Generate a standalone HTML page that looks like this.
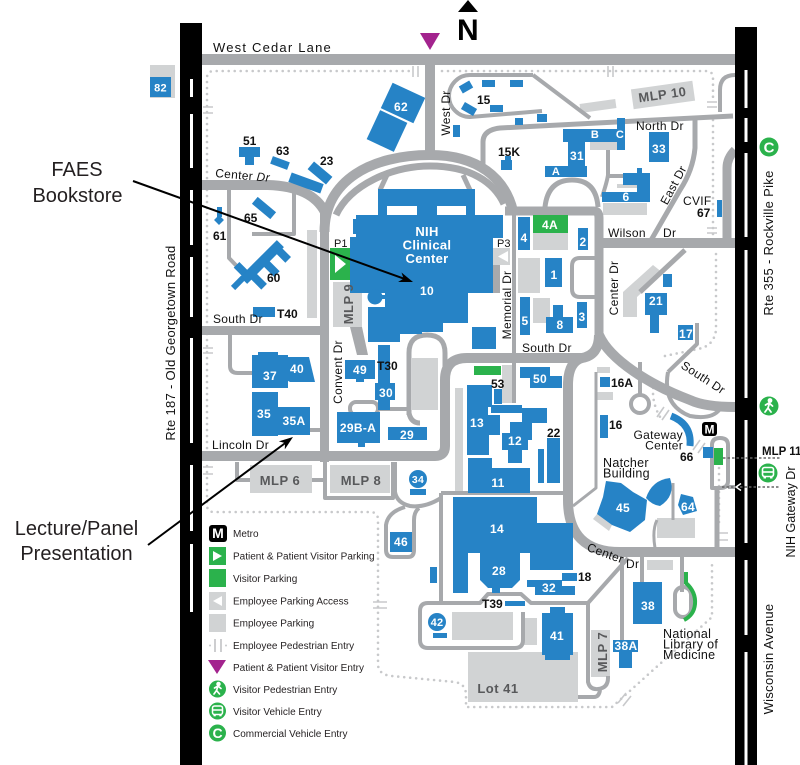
<!DOCTYPE html>
<html><head><meta charset="utf-8">
<style>
html,body{margin:0;padding:0;background:#fff;}
svg{display:block;}
text{font-family:"Liberation Sans",Arial,sans-serif;}
.b{fill:#2683c6;}
.lg{fill:#d1d3d4;}
.g{fill:#2bb24c;}
.r{fill:none;stroke:#a7a9ac;stroke-linejoin:round;}
.w{fill:#fff;font-weight:bold;font-size:12px;text-anchor:middle;letter-spacing:0.3px;}
.k{fill:#111;font-weight:bold;font-size:12px;}
.s{fill:#111;font-size:12px;letter-spacing:0.3px;}
.m{fill:#58595b;font-weight:bold;font-size:13px;text-anchor:middle;letter-spacing:0.5px;}
.d{fill:none;stroke:#c8c9cb;stroke-width:2.6;stroke-linecap:round;stroke-dasharray:0 6;}
.e{fill:none;stroke:#c8c9cb;stroke-width:1.6;}
.lt{fill:#231f20;font-size:10px;}
</style></head><body>
<svg width="800" height="765" viewBox="0 0 800 765" xmlns="http://www.w3.org/2000/svg">
<rect width="800" height="765" fill="#fff"/>

<!-- dotted pedestrian paths -->
<path class="d" d="M207,448 V78 Q207,71 214,71 H410"/>
<path class="d" d="M442,71 H706 Q713,71 713,78 V100"/>
<path class="d" d="M713,120 V240"/>
<path class="d" d="M716,254 V330 Q714,346 698,349 L660,357"/>
<path class="d" d="M654,382 Q650,402 662,420"/>
<path class="d" d="M207,466 V505 Q207,512 214,512 H370 Q378,512 378,520 V665 Q379,675 392,676 L455,682 Q466,684 466,695 V707 H612 L712,617 V560"/>
<path class="d" d="M719,468 V527"/>

<!-- employee pedestrian entries -->
<path class="e" d="M203,107 H213 M203,113 H213 M413,66 V77 M418,66 V77 M608,66 V77 M613,66 V77 M707,102 H717 M707,107 H717 M707,228 H717 M707,233 H717 M203,348 H213 M203,353 H213 M203,467 H213 M203,474 H213 M373,602 H387 M373,608 H387 M657,417 L664,407 M662,420 L669,410 M693,450 L700,440 M698,453 L705,443 M717,533 H728 M717,540 H728 M618,703 L626,693 M623,706 L631,696"/>

<!-- light gray parking -->
<rect class="lg" x="150" y="65" width="25" height="33"/>
<rect class="lg" x="307" y="230" width="10" height="88"/>
<rect class="lg" x="333" y="282" width="29" height="45"/>
<rect class="lg" x="493" y="248" width="17" height="17"/>
<rect class="lg" x="533" y="233" width="35" height="17"/>
<rect class="lg" x="518" y="258" width="22" height="35"/>
<rect class="lg" x="533" y="298" width="17" height="25"/>
<rect class="lg" x="603" y="203" width="44" height="12"/>
<rect class="lg" x="617" y="184" width="21" height="4"/>
<rect class="lg" x="590" y="142" width="27" height="8"/>
<g transform="translate(663,95) rotate(-8)"><rect class="lg" x="-31" y="-10" width="62" height="20"/></g>
<g transform="translate(598,106) rotate(-8)"><rect class="lg" x="-18" y="-4.5" width="36" height="9"/></g>
<polygon class="lg" points="653,265 663,273 637,297 637,317 623,317 623,292"/>
<rect class="lg" x="597" y="367" width="13" height="6"/>
<rect class="lg" x="597" y="392" width="16" height="8"/>
<rect class="lg" x="502" y="365" width="10" height="38"/>
<rect class="lg" x="455" y="388" width="8" height="105"/>
<rect class="lg" x="412" y="358" width="26" height="52"/>
<rect class="lg" x="250" y="465" width="62" height="28"/>
<rect class="lg" x="330" y="465" width="60" height="28"/>
<rect class="lg" x="452" y="612" width="61" height="28"/>
<rect class="lg" x="523" y="618" width="14" height="27"/>
<rect class="lg" x="468" y="652" width="110" height="50"/>
<rect class="lg" x="591" y="630" width="19" height="47"/>
<rect class="lg" x="647" y="560" width="26" height="10"/>
<rect class="lg" x="657" y="518" width="38" height="20"/>
<polygon class="lg" points="597,514 612,525 609,531 593,519"/>

<!-- roads -->
<g class="r">
<path stroke-width="11" d="M202,59.5 H735"/>
<path stroke-width="10" d="M430,65 V158"/>
<path stroke-width="10" d="M202,185 H268 C298,186 316,195 325,212"/>
<path stroke-width="9" d="M324.5,205 V462"/>
<path stroke-width="10" d="M324.5,232 C324.5,180 372,155 430,155 C478,155 505,178 513,211"/>
<path stroke-width="7" d="M336,215 C350,185 392,166 430,166 C470,166 494,182 504,204"/>
<path stroke-width="5" d="M387,175 L380,190 M463,175 L470,190"/>
<path stroke-width="9" d="M505,211 H594 Q599,211 599,218 V338"/>
<path stroke-width="5" d="M483,165 V142 Q483,130 500,128 L733,116"/>
<path stroke-width="4" d="M533,75 H470 A21,21 0 0 0 470,117 L542,111 M533,75 L590,118"/>
<path stroke-width="5" d="M545,207 Q548,180 572,180 Q596,180 598,207"/>
<path stroke-width="4" d="M602,197 Q607,182 608,175 V150 M608,176 H624"/>
<path stroke-width="10" d="M599,243 H735"/>
<path stroke-width="5" d="M695,117 V148 Q693,170 680,190 L650,242"/>
<path stroke-width="9" d="M735,150 Q727,158 727,168 V243"/>
<path stroke-width="4" d="M735,75 Q720,75 720,90 V112"/>
<path stroke-width="4" d="M514,211 V403"/>
<path stroke-width="4" d="M599,258 H580 Q572,258 572,266 V289 Q572,297 580,297 H599"/>
<path stroke-width="9" d="M202,330.5 H325"/>
<path stroke-width="10" d="M202,456 H435 Q445,456 445,446 V380 Q445,358 467,358 H582 Q599,355 599,335"/>
<path stroke-width="10" d="M582,358 Q568,362 568,385 V500 Q568,552 620,552 H735"/>
<path stroke-width="10" d="M599,335 C610,360 650,385 690,400 Q705,407 735,407"/>
<path stroke-width="5" d="M640,292 L685,250"/>
<path stroke-width="4" d="M668,372 L697,344 V323"/>
<path stroke-width="4" d="M668,372 Q662,405 690,416 Q712,420 720,409"/>
<path stroke-width="4" d="M640,362 V395"/>
<circle cx="640" cy="404" r="9" stroke-width="4"/>
<path stroke-width="3" d="M596,372 V488 L573,506"/>
<path stroke-width="4" d="M712,488 V445 Q712,438 720,438 Q728,438 728,445 V481 Q728,488 720,488 Z M728,487 H735"/>
<path stroke-width="5" d="M717,488 V548"/>
<path stroke-width="3" d="M673,483 V520 M657,520 Q652,530 655,548"/>
<path stroke-width="4" d="M622,552 V640 M642,552 V582 M682,552 V592"/>
<rect x="675" y="587" width="16" height="30" rx="8" stroke-width="4"/>
<path stroke-width="4" d="M628,558 L588,603 H531 L521,594 H488 L480,603 H428 Q420,603 420,611 V640 Q420,648 428,648 H515 Q523,648 523,640 V612"/>
<path stroke-width="4" d="M588,603 V682 Q590,690 598,689 Q608,688 608,678 V676"/>
<path stroke-width="4" d="M578,697 H594 Q599,697 600,690"/>
<path stroke-width="4" d="M441,493 V603 M441,493 H563"/>
<path stroke-width="4" d="M237,462 V480 H250 M312,480 H325 M325,462 V498 H393 V462"/>
<path stroke-width="4" d="M395,462 V492 Q397,503 410,506 Q425,508 441,498"/>
<path stroke-width="4" d="M405,507 Q388,512 386,525 V550 Q386,557 393,557 H408 Q414,557 414,550 V520 Q414,512 419,508"/>
<path stroke-width="4" d="M229,185 V258 L250,280 M294,190 V234 H252"/>
<path stroke-width="4" d="M230,335 V366 Q230,373 238,373 H252 M310,430 H320"/>
<path stroke-width="5" d="M409,415 V353 Q409,335 427,335 Q445,335 445,353 V380 M409,413 Q411,423 420,423"/>
<rect x="350" y="402" width="28" height="13" rx="6" stroke-width="4"/>
<path stroke-width="4" d="M378,409 H409"/>
</g>
<polygon fill="#a7a9ac" points="350,327 362,327 368,355 357,355"/>
<rect fill="#a7a9ac" x="493" y="265" width="7" height="28"/>

<!-- green parking -->
<rect class="g" x="330" y="248" width="20" height="32"/>
<polygon fill="#fff" points="335,255 346,264 335,273"/>
<rect class="g" x="533" y="215" width="35" height="18"/>
<rect class="g" x="474" y="366" width="27" height="9"/>
<rect class="g" x="714" y="448" width="9" height="17"/>
<path d="M686,572 V583 Q696,592 695,604 Q694,615 684,620" fill="none" stroke="#2bb24c" stroke-width="4"/>
<polygon fill="#fff" points="508,251 498,256.5 508,262"/>

<!-- buildings -->
<g class="b">
<rect x="150" y="77" width="21" height="20"/>
<g transform="translate(403,103) rotate(25)"><rect x="-18" y="-14" width="36" height="28"/></g>
<g transform="translate(387,131) rotate(25)"><rect x="-15" y="-16" width="30" height="32"/></g>
<rect x="239" y="147" width="21" height="10"/><rect x="245" y="156" width="9" height="9"/>
<g transform="translate(280,163) rotate(20)"><rect x="-9" y="-4" width="18" height="8"/></g>
<g transform="translate(306,183) rotate(20)"><rect x="-17" y="-5" width="34" height="10"/></g>
<g transform="translate(320,173) rotate(40)"><rect x="-12" y="-5" width="24" height="10"/></g>
<g transform="translate(264,208) rotate(40)"><rect x="-12" y="-4.5" width="24" height="9"/></g>
<rect x="217" y="207" width="5" height="10"/>
<g transform="translate(219,220) rotate(45)"><rect x="-3.5" y="-3.5" width="7" height="7"/></g>
<g transform="translate(262,262) rotate(-45)">
<rect x="-26" y="-5" width="52" height="10"/><rect x="-20" y="4" width="8" height="15"/><rect x="-2" y="4" width="8" height="15"/><rect x="16" y="4" width="8" height="13"/><rect x="-24" y="-16" width="8" height="12"/>
</g>
<g transform="translate(238,283) rotate(-45)"><rect x="-7" y="-3" width="14" height="6"/></g>
<rect x="253" y="307" width="22" height="10"/>
<!-- clinical center -->
<rect x="378" y="189" width="97" height="17"/>
<rect x="378" y="205" width="9" height="11"/><rect x="417" y="205" width="20" height="11"/><rect x="466" y="205" width="9" height="11"/>
<rect x="356" y="215" width="147" height="23"/><rect x="353" y="219" width="4" height="15"/>
<rect x="350" y="237" width="143" height="56"/>
<rect x="385" y="292" width="83" height="31"/>
<rect x="398" y="320" width="24" height="14"/>
<rect x="368" y="307" width="32" height="35"/>
<rect x="420" y="320" width="23" height="12"/>
<circle cx="375" cy="297" r="7.5"/>
<rect x="380" y="295" width="8" height="4"/>
<rect x="472" y="327" width="24" height="22"/>
<!-- east campus -->
<rect x="518" y="217" width="12" height="33"/>
<rect x="578" y="228" width="10" height="22"/>
<rect x="545" y="258" width="17" height="29"/>
<rect x="520" y="297" width="10" height="38"/>
<rect x="553" y="305" width="10" height="13"/><rect x="546" y="317" width="27" height="16"/>
<rect x="577" y="302" width="10" height="26"/>
<rect x="501" y="160" width="11" height="10"/><rect x="505" y="156" width="6" height="6"/>
<g transform="translate(466,87) rotate(-30)"><rect x="-6" y="-4" width="12" height="8"/></g>
<rect x="482" y="80" width="13" height="7"/><rect x="510" y="80" width="13" height="7"/>
<g transform="translate(469,109) rotate(30)"><rect x="-7" y="-4" width="14" height="8"/></g>
<rect x="490" y="105" width="13" height="7"/><rect x="515" y="118" width="8" height="7"/><rect x="537" y="114" width="10" height="8"/><rect x="453" y="125" width="7" height="12"/>
<rect x="563" y="129" width="62" height="13"/><rect x="617" y="118" width="8" height="32"/>
<rect x="568" y="141" width="17" height="26"/><rect x="545" y="166" width="42" height="11"/>
<rect x="649" y="132" width="20" height="30"/>
<rect x="623" y="173" width="27" height="12"/><rect x="637" y="168" width="5" height="6"/><rect x="637" y="184" width="13" height="18"/><rect x="602" y="192" width="36" height="10"/>
<rect x="717" y="200" width="5" height="17"/>
<rect x="645" y="293" width="22" height="22"/><rect x="650" y="314" width="9" height="19"/><rect x="663" y="274" width="9" height="13"/>
<rect x="678" y="325" width="15" height="15"/>
<rect x="520" y="367" width="30" height="11"/><rect x="530" y="376" width="32" height="12"/>
<rect x="494" y="389" width="8" height="15"/>
<rect x="467" y="385" width="25" height="22"/><rect x="467" y="406" width="21" height="10"/><rect x="467" y="415" width="33" height="20"/><rect x="467" y="434" width="22" height="21"/>
<rect x="491" y="405" width="31" height="8"/><rect x="522" y="408" width="25" height="15"/><rect x="510" y="422" width="22" height="18"/><rect x="502" y="433" width="26" height="17"/><rect x="508" y="448" width="14" height="15"/>
<rect x="547" y="438" width="13" height="45"/><rect x="538" y="449" width="6" height="34"/>
<rect x="468" y="458" width="24" height="11"/><rect x="468" y="468" width="62" height="25"/>
<rect x="600" y="377" width="10" height="10"/><rect x="600" y="415" width="8" height="23"/>
<path d="M671,416 Q692,424 690,446" fill="none" stroke="#2683c6" stroke-width="7"/>
<rect x="703" y="447" width="10" height="11"/>
<!-- south campus -->
<circle cx="418" cy="479" r="9"/><rect x="410" y="489" width="16" height="6"/>
<rect x="390" y="532" width="22" height="20"/>
<rect x="430" y="567" width="7" height="16"/>
<rect x="453" y="497" width="84" height="56"/><rect x="530" y="523" width="43" height="47"/>
<rect x="453" y="552" width="15" height="41"/>
<polygon points="480,553 520,553 520,580 512,588 488,588 480,580"/>
<rect x="492" y="587" width="8" height="6"/>
<rect x="562" y="573" width="15" height="8"/>
<rect x="527" y="580" width="35" height="7"/><rect x="535" y="586" width="40" height="9"/>
<rect x="505" y="601" width="20" height="5"/>
<circle cx="437" cy="622" r="9"/><rect x="433" y="633" width="14" height="5"/>
<rect x="550" y="607" width="15" height="7"/><rect x="542" y="613" width="31" height="42"/><rect x="545" y="654" width="25" height="6"/>
<rect x="613" y="640" width="25" height="12"/><rect x="619" y="651" width="13" height="17"/>
<rect x="633" y="582" width="29" height="42"/>
<polygon points="606,481 621,483 633,492 647,500 645,520 630,532 612,525 597,514 603,497"/>
<path d="M646,498 Q652,480 670,478 Q676,496 660,506 Q652,505 646,498 Z"/>
<polygon points="681,494 693,497 697,511 683,515 678,505"/>
<!-- west campus -->
<rect x="252" y="355" width="36" height="33"/><rect x="258" y="352" width="20" height="5"/>
<polygon points="283,357 309,357 315,382 290,382 283,378"/>
<rect x="252" y="392" width="26" height="44"/><rect x="277" y="407" width="33" height="28"/>
<rect x="345" y="360" width="30" height="19"/><rect x="356" y="378" width="8" height="4"/>
<rect x="378" y="345" width="12" height="65"/><rect x="375" y="383" width="20" height="17"/>
<rect x="337" y="412" width="43" height="31"/><rect x="358" y="442" width="7" height="5"/>
<rect x="388" y="427" width="39" height="13"/>
</g>

<!-- black roads -->
<rect x="180" y="23" width="22" height="742" fill="#000"/>
<g fill="#fff">
<rect x="190" y="79" width="3" height="18"/><rect x="190" y="114" width="3" height="54"/><rect x="190" y="190" width="3" height="55"/><rect x="190" y="257" width="3" height="60"/><rect x="190" y="338" width="3" height="105"/><rect x="190" y="465" width="3" height="66"/><rect x="190" y="544" width="3" height="68"/>
</g>
<rect x="735" y="27" width="22" height="738" fill="#000"/>
<g fill="#fff">
<rect x="744.5" y="70" width="3" height="38"/><rect x="744.5" y="118" width="3" height="24"/><rect x="744.5" y="153" width="3" height="84"/><rect x="744.5" y="250" width="3" height="148"/><rect x="744.5" y="420" width="3" height="123"/><rect x="744.5" y="560" width="3" height="75"/><rect x="744.5" y="652" width="3" height="113"/>
</g>

<!-- dashed connectors right -->
<path d="M723,458 H780" stroke="#666" stroke-width="1.6" stroke-dasharray="2.5 2"/>
<path d="M722,487 H780" stroke="#666" stroke-width="1.6" stroke-dasharray="2.5 2"/>
<path d="M741,483.5 L736,487 L741,490.5" fill="none" stroke="#fff" stroke-width="1.5"/>

<!-- icons -->
<polygon fill="#000" points="458,12 478,12 468,0"/>
<text x="457" y="40" style="font-weight:bold;font-size:30px;fill:#000;">N</text>
<polygon fill="#a3238e" points="420,33 440,33 430,50"/>
<rect x="702" y="422" width="15" height="14" rx="3" fill="#000"/>
<text x="709.5" y="433.5" style="fill:#fff;font-weight:bold;font-size:12px;text-anchor:middle;">M</text>
<g>
<circle cx="769" cy="147" r="9.5" class="g"/>
<text x="769" y="152.5" style="fill:#fff;font-weight:bold;font-size:15px;text-anchor:middle;">C</text>
<circle cx="769" cy="406" r="9.5" class="g"/>
<g fill="none" stroke="#fff" stroke-width="1.8" stroke-linecap="round"><circle cx="770" cy="400.5" r="1.5" fill="#fff"/><path d="M769.5,403 L768,408 L765,412 M768,408 L771,412 M765.5,405 L769,403 L772.5,406"/></g>
<circle cx="768" cy="473" r="9.5" class="g"/>
<g fill="none" stroke="#fff" stroke-width="1.6"><rect x="762.5" y="467.5" width="11" height="9" rx="2"/><path d="M762.5,472 H773.5"/></g>
<rect x="763.5" y="476" width="2.5" height="2.5" fill="#fff"/><rect x="770" y="476" width="2.5" height="2.5" fill="#fff"/>
</g>

<!-- building labels white -->
<text class="w" x="160.5" y="91.5" style="font-size:11px">82</text>
<text class="w" x="401" y="111">62</text>
<text class="w" x="577" y="160">31</text>
<text class="w" x="595" y="138" style="font-size:11px">B</text>
<text class="w" x="620" y="138" style="font-size:11px">C</text>
<text class="w" x="556" y="175" style="font-size:11px">A</text>
<text class="w" x="659" y="153">33</text>
<text class="w" x="626" y="201">6</text>
<text class="w" x="524" y="242">4</text>
<text class="w" x="550" y="229">4A</text>
<text class="w" x="583" y="246">2</text>
<text class="w" x="554" y="279">1</text>
<text class="w" x="525" y="325">5</text>
<text class="w" x="560" y="329">8</text>
<text class="w" x="582" y="321">3</text>
<text class="w" x="427" y="236" style="font-size:13px">NIH</text>
<text class="w" x="427" y="249.5" style="font-size:13px">Clinical</text>
<text class="w" x="427" y="263" style="font-size:13px">Center</text>
<text class="w" x="427" y="295">10</text>
<text class="w" x="656" y="305">21</text>
<text class="w" x="686" y="338">17</text>
<text class="w" x="540" y="383">50</text>
<text class="w" x="477" y="427">13</text>
<text class="w" x="515" y="445">12</text>
<text class="w" x="498" y="487">11</text>
<text class="w" x="497" y="533">14</text>
<text class="w" x="499" y="575">28</text>
<text class="w" x="549" y="592">32</text>
<text class="w" x="437" y="626" style="font-size:11px">42</text>
<text class="w" x="418" y="483" style="font-size:10.5px">34</text>
<text class="w" x="401" y="546">46</text>
<text class="w" x="557" y="640">41</text>
<text class="w" x="648" y="610">38</text>
<text class="w" x="626" y="650">38A</text>
<text class="w" x="623" y="512">45</text>
<text class="w" x="688" y="511">64</text>
<text class="w" x="270" y="380">37</text>
<text class="w" x="297" y="373">40</text>
<text class="w" x="264" y="418">35</text>
<text class="w" x="294" y="425">35A</text>
<text class="w" x="360" y="374">49</text>
<text class="w" x="386" y="397">30</text>
<text class="w" x="358" y="432">29B-A</text>
<text class="w" x="407" y="439">29</text>

<!-- black bold labels -->
<g class="k">
<text x="243" y="145">51</text>
<text x="276" y="155">63</text>
<text x="320" y="165">23</text>
<text x="244" y="222">65</text>
<text x="213" y="240">61</text>
<text x="267" y="282">60</text>
<text x="277" y="318">T40</text>
<text x="477" y="104">15</text>
<text x="498" y="156">15K</text>
<text x="697" y="217">67</text>
<text x="377" y="370">T30</text>
<text x="491" y="388">53</text>
<text x="547" y="437">22</text>
<text x="611" y="387">16A</text>
<text x="609" y="429">16</text>
<text x="578" y="581">18</text>
<text x="482" y="608">T39</text>
<text x="680" y="461">66</text>
<text x="762" y="455" style="font-size:11.5px">MLP 11</text>
<text x="334" y="247" style="font-weight:normal;font-size:11px">P1</text>
<text x="497" y="247" style="font-weight:normal;font-size:11px">P3</text>
</g>

<!-- MLP labels -->
<text class="m" transform="translate(663,99) rotate(-8)">MLP 10</text>
<text class="m" transform="translate(353,304) rotate(-90)">MLP 9</text>
<text class="m" x="280" y="485">MLP 6</text>
<text class="m" x="361" y="485">MLP 8</text>
<text class="m" transform="translate(607,652) rotate(-90)">MLP 7</text>
<text class="m" x="498" y="693">Lot 41</text>

<!-- street labels -->
<g class="s">
<text x="213" y="52" style="font-size:13px;letter-spacing:1.2px">West Cedar Lane</text>
<text transform="translate(215,177) rotate(5)">Center <tspan font-style="italic">Dr</tspan></text>
<text x="213" y="323">South Dr</text>
<text x="212" y="449">Lincoln Dr</text>
<text transform="translate(450,113) rotate(-90)" text-anchor="middle">West Dr</text>
<text transform="translate(342,372) rotate(-90)" text-anchor="middle">Convent Dr</text>
<text transform="translate(511,305) rotate(-90)" text-anchor="middle">Memorial Dr</text>
<text x="522" y="352">South  Dr</text>
<text transform="translate(618,288) rotate(-90)" text-anchor="middle">Center Dr</text>
<text x="636" y="130">North Dr</text>
<text transform="translate(677,187) rotate(-62)" text-anchor="middle">East Dr</text>
<text x="608" y="237">Wilson</text><text x="663" y="237">Dr</text>
<text x="683" y="205">CVIF</text>
<text transform="translate(701,381) rotate(33)" text-anchor="middle">South Dr</text>
<text x="683" y="439" text-anchor="end">Gateway</text>
<text x="683" y="449.5" text-anchor="end">Center</text>
<text x="603" y="467" style="font-size:12.5px">Natcher</text>
<text x="603" y="477.5" style="font-size:12.5px">Building</text>
<text transform="translate(604,557) rotate(20)" text-anchor="middle">Center</text>
<text x="626" y="568">Dr</text>
<text x="663" y="638" style="font-size:12.5px">National</text>
<text x="663" y="648.5" style="font-size:12.5px">Library of</text>
<text x="663" y="659" style="font-size:12.5px">Medicine</text>
<text transform="translate(175,343) rotate(-90)" text-anchor="middle" style="font-size:13px">Rte 187 - Old Georgetown Road</text>
<text transform="translate(773,243) rotate(-90)" text-anchor="middle" style="font-size:13px">Rte 355 - Rockville Pike</text>
<text transform="translate(795,512) rotate(-90)" text-anchor="middle" style="font-size:12.5px;letter-spacing:0">NIH Gateway Dr</text>
<text transform="translate(773,659) rotate(-90)" text-anchor="middle" style="font-size:13px">Wisconsin Avenue</text>
</g>

<!-- legend -->
<rect x="209" y="525" width="18" height="17" rx="3" fill="#000"/>
<text x="218" y="538" style="fill:#fff;font-weight:bold;font-size:14px;text-anchor:middle;">M</text>
<rect x="209" y="547" width="17" height="18" class="g"/>
<polygon fill="#fff" points="213,551 222,556 213,561"/>
<rect x="209" y="569" width="17" height="18" class="g"/>
<rect x="209" y="592" width="17" height="18" class="lg"/>
<polygon fill="#fff" points="222,596 213,601 222,606"/>
<rect x="209" y="614" width="17" height="18" class="lg"/>
<path d="M215,639 V652 M221,639 V652" stroke="#c8c9cb" stroke-width="1.8"/>
<circle cx="210" cy="645.5" r="1" fill="#c8c9cb"/><circle cx="226" cy="645.5" r="1" fill="#c8c9cb"/>
<polygon fill="#a3238e" points="208,660 226,660 217,674"/>
<circle cx="217.5" cy="689" r="8.5" class="g"/>
<g fill="none" stroke="#fff" stroke-width="1.7" stroke-linecap="round"><circle cx="218.5" cy="684" r="1.4" fill="#fff"/><path d="M218,686 L216.5,690.5 L214,694 M216.5,690.5 L219.5,694 M214.5,688 L218,686 L221,688.5"/></g>
<circle cx="217.5" cy="711" r="8.5" class="g"/>
<g fill="none" stroke="#fff" stroke-width="1.5"><rect x="212.5" y="706" width="10" height="8.5" rx="2"/><path d="M212.5,710 H222.5"/></g>
<rect x="213.5" y="714" width="2.3" height="2.3" fill="#fff"/><rect x="219.3" y="714" width="2.3" height="2.3" fill="#fff"/>
<circle cx="217.5" cy="733" r="8.5" class="g"/>
<text x="217.5" y="738" style="fill:#fff;font-weight:bold;font-size:14px;text-anchor:middle;">C</text>
<g class="lt">
<text x="233" y="537">Metro</text>
<text x="233" y="559.5">Patient &amp; Patient Visitor Parking</text>
<text x="233" y="582">Visitor Parking</text>
<text x="233" y="604.5">Employee Parking Access</text>
<text x="233" y="626.5">Employee Parking</text>
<text x="233" y="649">Employee Pedestrian Entry</text>
<text x="233" y="671">Patient &amp; Patient Visitor Entry</text>
<text x="233" y="693">Visitor Pedestrian Entry</text>
<text x="233" y="715">Visitor Vehicle Entry</text>
<text x="233" y="737">Commercial Vehicle Entry</text>
</g>

<!-- annotations -->
<g style="fill:#231f20;font-size:20px;text-anchor:middle;">
<text x="77" y="176">FAES</text>
<text x="77.5" y="202">Bookstore</text>
<text x="76.5" y="535">Lecture/Panel</text>
<text x="76.5" y="560">Presentation</text>
</g>
<path d="M133,181 L404,278.7" stroke="#000" stroke-width="2"/>
<polygon fill="#000" points="413,282 398.1,282 403.6,278.6 401.5,272.5"/>
<path d="M148,545 L286,442.5" stroke="#000" stroke-width="2"/>
<polygon fill="#000" points="293,437 284.8,449.4 285,443 278.8,441.4"/>
</svg>
</body></html>
